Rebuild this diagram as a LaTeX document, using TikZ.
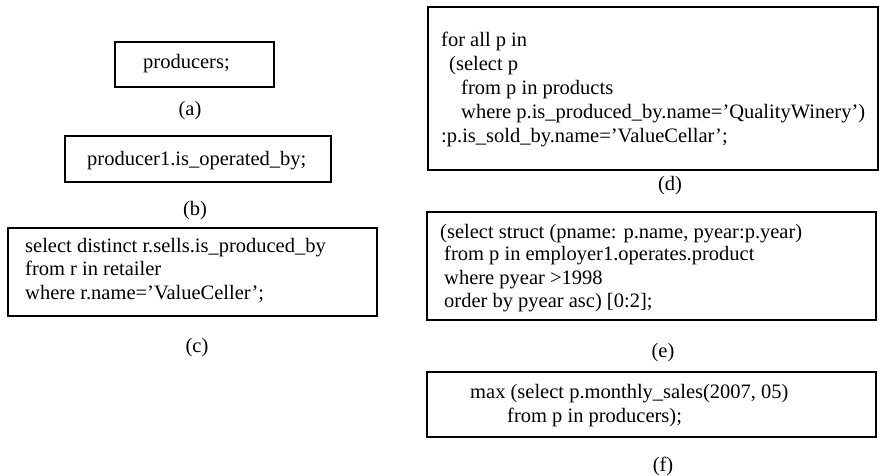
\documentclass[tikz,border=0pt]{standalone}
\usepackage{fontspec}
\setmainfont{Liberation Serif}
\begin{document}
\begin{tikzpicture}[x=1pt,y=-1pt,
  frame/.style={draw=black,line width=1.8pt},
  code/.style={anchor=base west,inner sep=0pt,font=\fontsize{20.5}{23.5}\selectfont},
  caption/.style={anchor=base,inner sep=0pt,font=\fontsize{20.5}{23.5}\selectfont}]
\useasboundingbox[fill=white] (0,0) rectangle (879,476);
% (a)
\draw[frame] (115,42) rectangle (274,87);
\node[code] (ta) at (143,69) {producers;};
\node[caption] (la) at (190,116) {(a)};
% (b)
\draw[frame] (65,136) rectangle (331,182);
\node[code] (tb) at (87,166) {producer1.is\_operated\_by;};
\node[caption] (lb) at (195,215) {(b)};
% (c)
\draw[frame] (8,228) rectangle (377,316);
\node[code] (tc1) at (25,252) {select distinct r.sells.is\_produced\_by};
\node[code] (tc2) at (25,276) {from r in retailer};
\node[code] (tc3) at (25,299) {where r.name=’ValueCeller’;};
\node[caption] (lc) at (197,352) {(c)};
% (d)
\draw[frame] (428,7) rectangle (878,170);
\node[code] (td1) at (441,47) {for all p in};
\node[code] (td2) at (449,71) {(select p};
\node[code] (td3) at (461,95) {from p in products};
\node[code] (td4) at (461,119) {where p.is\_produced\_by.name=’QualityWinery’)};
\node[code] (td5) at (441,143) {:p.is\_sold\_by.name=’ValueCellar’;};
\node[caption] (ld) at (670,191) {(d)};
% (e)
\draw[frame] (427,212) rectangle (876,320);
\node[code] (te1) at (440,238) {(select struct (pname: p.name, pyear:p.year)};
\node[code] (te2) at (444,261) {from p in employer1.operates.product};
\node[code] (te3) at (444,284) {where pyear >1998};
\node[code] (te4) at (444,307) {order by pyear asc) [0:2];};
\node[caption] (le) at (663,357) {(e)};
% (f)
\draw[frame] (427,372) rectangle (876,437);
\node[code] (tf1) at (470,398) {max (select p.monthly\_sales(2007, 05)};
\node[code] (tf2) at (507,422) {from p in producers);};
\node[caption] (lf) at (663,471) {(f)};
\end{tikzpicture}
\end{document}
